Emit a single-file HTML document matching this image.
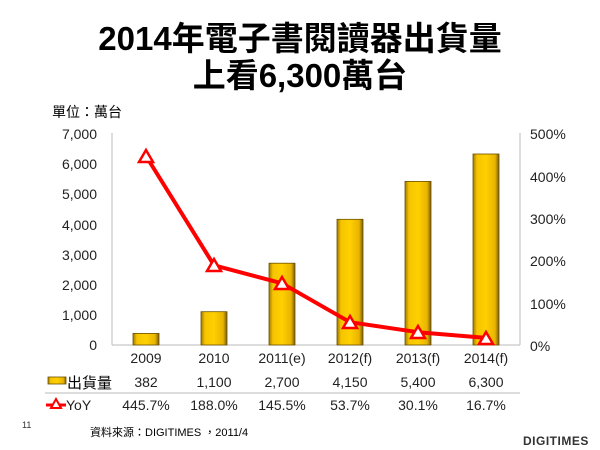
<!DOCTYPE html>
<html><head><meta charset="utf-8"><style>
body{margin:0;width:600px;height:450px;background:#fff;overflow:hidden}
svg{display:block}
text{font-family:"Liberation Sans","Noto Sans CJK TC",sans-serif}
</style></head><body>
<svg width="600" height="450" viewBox="0 0 600 450">
<defs>
<linearGradient id="g" x1="0" x2="1" y1="0" y2="0">
<stop offset="0" stop-color="#a07800"/><stop offset="0.15" stop-color="#f5c400"/><stop offset="0.5" stop-color="#ffd000"/><stop offset="0.85" stop-color="#e8b400"/><stop offset="1" stop-color="#7a5a00"/>
</linearGradient>
</defs>
<text x="300" y="50" font-size="33" font-weight="bold" text-anchor="middle">2014年電子書閱讀器出貨量</text>
<text x="300" y="87" font-size="33" font-weight="bold" text-anchor="middle">上看6,300萬台</text>
<text x="52" y="117" font-size="14">單位：萬台</text>
<g font-size="14" fill="#222" text-anchor="end">
<text x="97" y="139">7,000</text><text x="97" y="169">6,000</text><text x="97" y="199">5,000</text><text x="97" y="230">4,000</text><text x="97" y="260">3,000</text><text x="97" y="290">2,000</text><text x="97" y="320">1,000</text><text x="97" y="350">0</text>
</g>
<g font-size="14" fill="#222">
<text x="530" y="139">500%</text><text x="530" y="182">400%</text><text x="530" y="224">300%</text><text x="530" y="266">200%</text><text x="530" y="309">100%</text><text x="530" y="351">0%</text>
</g>
<line x1="112" y1="133" x2="112" y2="345" stroke="#bbb"/>
<line x1="520" y1="133" x2="520" y2="345" stroke="#bbb"/>
<line x1="112" y1="345" x2="520" y2="345" stroke="#bbb"/>
<g stroke="#6a5000" stroke-width="0.8" fill="url(#g)">
<rect x="133" y="333.4" width="26" height="11.6"/>
<rect x="201" y="311.7" width="26" height="33.3"/>
<rect x="269" y="263.2" width="26" height="81.8"/>
<rect x="337" y="219.3" width="26" height="125.7"/>
<rect x="405" y="181.4" width="26" height="163.6"/>
<rect x="473" y="154" width="26" height="191"/>
</g>
<polyline points="146,156 214,265.3 282,283.3 350,322.2 418,332.2 486,337.9" fill="none" stroke="#f00" stroke-width="4" stroke-linejoin="round"/>
<g fill="#fff" stroke="#f00" stroke-width="2.5">
<polygon points="146,150 153,162 139,162"/>
<polygon points="214,259 221,271 207,271"/>
<polygon points="282,277 289,289 275,289"/>
<polygon points="350,316 357,328 343,328"/>
<polygon points="418,326 425,338 411,338"/>
<polygon points="486,332 493,344 479,344"/>
</g>
<g font-size="14" fill="#222" text-anchor="middle">
<text x="146" y="363">2009</text><text x="214" y="363">2010</text><text x="282" y="363">2011(e)</text><text x="350" y="363">2012(f)</text><text x="418" y="363">2013(f)</text><text x="486" y="363">2014(f)</text>
<text x="146" y="387">382</text><text x="214" y="387">1,100</text><text x="282" y="387">2,700</text><text x="350" y="387">4,150</text><text x="418" y="387">5,400</text><text x="486" y="387">6,300</text>
<text x="146" y="410">445.7%</text><text x="214" y="410">188.0%</text><text x="282" y="410">145.5%</text><text x="350" y="410">53.7%</text><text x="418" y="410">30.1%</text><text x="486" y="410">16.7%</text>
</g>
<line x1="45" y1="393" x2="520" y2="393" stroke="#bbb"/>
<rect x="48" y="377" width="18" height="7" fill="url(#g)" stroke="#6a5000" stroke-width="0.8"/>
<text x="67" y="388" font-size="15">出貨量</text>
<line x1="46" y1="405" x2="66" y2="405" stroke="#f00" stroke-width="3"/>
<polygon points="56,399 61,408 51,408" fill="#fff" stroke="#f00" stroke-width="2"/>
<text x="66" y="410" font-size="14" fill="#222">YoY</text>
<text x="22" y="428" font-size="9" fill="#333">11</text>
<text x="90" y="436" font-size="11">資料來源：DIGITIMES ，2011/4</text>
<text x="523" y="445" font-size="12" font-weight="bold" fill="#333" letter-spacing="0.5">DIGITIMES</text>
</svg>
</body></html>
